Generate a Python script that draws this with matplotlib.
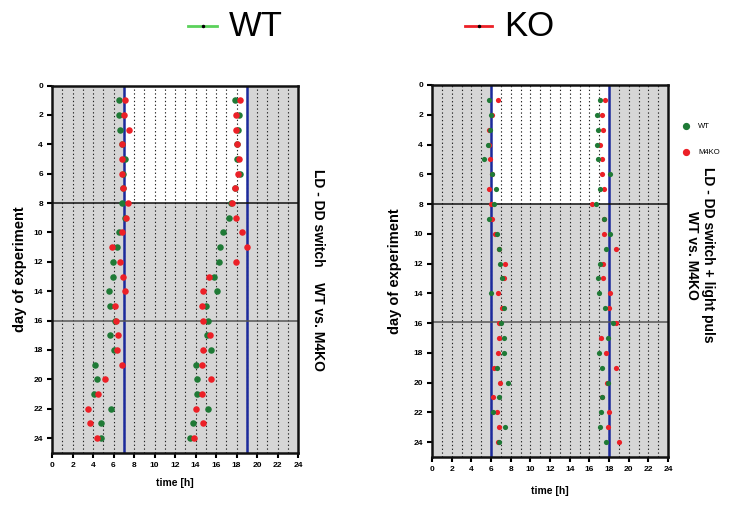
import matplotlib
matplotlib.use("Agg")
import matplotlib.pyplot as plt
from matplotlib.lines import Line2D

days = [1, 2, 3, 4, 5, 6, 7, 8, 9, 10, 11, 12, 13, 14, 15, 16, 17, 18, 19, 20, 21, 22, 23, 24]

left_wt_on = [6.57, 6.54, 6.67, 6.86, 7.09, 6.96, 6.96, 6.8, 7.1, 6.5, 6.37, 5.98,
              5.95, 5.56, 5.63, 6.15, 5.66, 6.08, 4.23, 4.36, 4.13, 5.76, 4.75, 4.78]
left_ko_on = [7.09, 7.0, 7.48, 6.86, 6.8, 6.8, 6.96, 7.41, 7.2, 6.83, 5.88, 6.63,
              6.96, 7.15, 6.11, 6.2, 6.44, 6.37, 6.83, 5.14, 4.52, 3.48, 3.71, 4.39]
left_wt_off = [17.85, 18.2, 18.15, 18.05, 18.0, 18.35, 17.9, 17.5, 17.27, 16.65, 16.42, 16.3,
               15.8, 16.07, 15.02, 15.2, 15.15, 15.5, 14.0, 14.15, 14.15, 15.19, 13.8, 13.46]
left_ko_off = [18.34, 17.95, 17.92, 18.05, 18.2, 18.1, 17.9, 17.53, 17.95, 18.5, 19.06, 17.95,
               15.32, 14.73, 14.67, 14.7, 15.45, 14.76, 14.67, 15.48, 14.6, 14.05, 14.76, 13.85]

right_wt_on = [5.8, 5.97, 5.93, 5.73, 5.26, 6.14, 6.51, 6.34, 5.83, 6.64, 6.81, 6.92,
               7.09, 6.04, 7.32, 7.02, 7.29, 7.29, 6.58, 7.7, 6.81, 6.17, 7.46, 6.85]
right_ko_on = [6.68, 6.07, 5.8, 5.75, 5.93, 6.1, 5.83, 6.03, 6.14, 6.44, 6.8, 7.46,
               7.36, 6.68, 7.12, 6.78, 6.78, 6.75, 6.27, 6.92, 6.24, 6.58, 6.78, 6.75]
right_wt_off = [17.12, 16.75, 16.92, 16.75, 16.92, 18.1, 17.09, 16.68, 17.46, 18.07, 17.67, 17.12,
                16.92, 16.99, 17.6, 18.35, 17.94, 16.96, 17.33, 17.94, 17.26, 17.16, 17.06, 17.64]
right_ko_off = [17.6, 17.33, 17.36, 17.09, 17.26, 17.3, 17.46, 16.24, 17.46, 17.46, 18.7, 17.36,
                17.36, 18.1, 17.97, 18.7, 17.19, 17.67, 18.7, 17.74, 17.26, 17.97, 17.87, 19.0]

left_light = (7, 19)
right_light = (6, 18)
left_hlines = (8, 16)
right_hlines = (8, 15.9)
xticks = [0, 2, 4, 6, 8, 10, 12, 14, 16, 18, 20, 22, 24]
yticks = [0, 2, 4, 6, 8, 10, 12, 14, 16, 18, 20, 22, 24]

GREEN = "#1f7a36"
RED = "#ec2027"
GRAY = "#d6d6d6"
BLUE = "#1c2a9c"

plt.rcParams['font.family'] = ['Liberation Sans', 'DejaVu Sans']

fig = plt.figure(figsize=(7.36, 5.12), dpi=100)
axL = fig.add_axes([0.0707, 0.1158, 0.3342, 0.717])
axR = fig.add_axes([0.587, 0.1074, 0.3207, 0.7266])


def setup(ax, light, hlines, wt_on, ko_on, wt_off, ko_off, ms, red_on_top, xpad, ypad):
    ax.set_xlim(0, 24)
    ax.set_ylim(25, 0)
    ax.set_facecolor(GRAY)
    ax.fill_between([light[0], light[1]], 0, 8, color="white", zorder=0.5, lw=0)
    for h in range(1, 24):
        ax.axvline(h, color="#222222", lw=0.8, ls=(0, (1.2, 2.2)), zorder=1)
    for x in light:
        ax.axvline(x, color=BLUE, lw=1.8, zorder=2)
    ax.axhline(hlines[0], color="#111111", lw=1.1, zorder=2)
    ax.axhline(hlines[1], color="#555555", lw=1.1, zorder=2)
    zg, zr = (3, 4) if red_on_top else (4, 3)
    ax.scatter(wt_on, days, s=ms, color=GREEN, zorder=zg, lw=0)
    ax.scatter(wt_off, days, s=ms, color=GREEN, zorder=zg, lw=0)
    ax.scatter(ko_on, days, s=ms, color=RED, zorder=zr, lw=0)
    ax.scatter(ko_off, days, s=ms, color=RED, zorder=zr, lw=0)
    ax.set_xticks(xticks)
    ax.set_yticks(yticks)
    for sp in ax.spines.values():
        sp.set_linewidth(1.8)
        sp.set_color("#111111")
    ax.tick_params(direction="out", length=3.5, width=1.5, labelsize=6, pad=3)
    for lab in ax.get_xticklabels() + ax.get_yticklabels():
        lab.set_fontweight("bold")
    ax.set_xlabel("time [h]", fontsize=7.5, fontweight="bold", labelpad=xpad)
    ax.set_ylabel("day of experiment", fontsize=10.5, fontweight="bold", labelpad=ypad)


setup(axL, left_light, left_hlines, left_wt_on, left_ko_on, left_wt_off, left_ko_off, 22, True, 7, 5)
setup(axR, right_light, right_hlines, right_wt_on, right_ko_on, right_wt_off, right_ko_off, 14, False, 9, 8)

# side titles
fig.text(318 / 736, 1 - 270 / 512, "LD - DD switch    WT vs. M4KO", rotation=-90,
         ha="center", va="center", fontsize=10, fontweight="bold")
fig.text(708 / 736, 1 - 255 / 512, "LD - DD switch + light puls", rotation=-90,
         ha="center", va="center", fontsize=10, fontweight="bold")
fig.text(692 / 736, 1 - 255 / 512, "WT vs. M4KO", rotation=-90,
         ha="center", va="center", fontsize=10, fontweight="bold")

# small legend right
fig.add_artist(Line2D([686 / 736], [1 - 126 / 512], marker="o", color=GREEN, ms=4.2, lw=0,
                      transform=fig.transFigure))
fig.text(698 / 736, 1 - 126 / 512, "WT", fontsize=5.5, va="center", ha="left")
fig.add_artist(Line2D([686 / 736], [1 - 152 / 512], marker="o", color=RED, ms=4.2, lw=0,
                      transform=fig.transFigure))
fig.text(698 / 736, 1 - 152 / 512, "M4KO", fontsize=5.5, va="center", ha="left")

# top legend
for (x0, x1, tx, col, lab) in [(188, 217, 229, "#5bd15b", "WT"), (465, 492, 504, RED, "KO")]:
    fig.add_artist(Line2D([x0 / 736, x1 / 736], [1 - 26 / 512, 1 - 26 / 512], color=col,
                          lw=2, transform=fig.transFigure))
    fig.add_artist(Line2D([(x0 + x1) / 2 / 736], [1 - 26 / 512], marker="o", color="black", ms=1.5,
                          lw=0, transform=fig.transFigure))
    fig.text(tx / 736, 1 - 26 / 512, lab, fontsize=25, va="center", ha="left")

fig.savefig("out.png", dpi=100)
